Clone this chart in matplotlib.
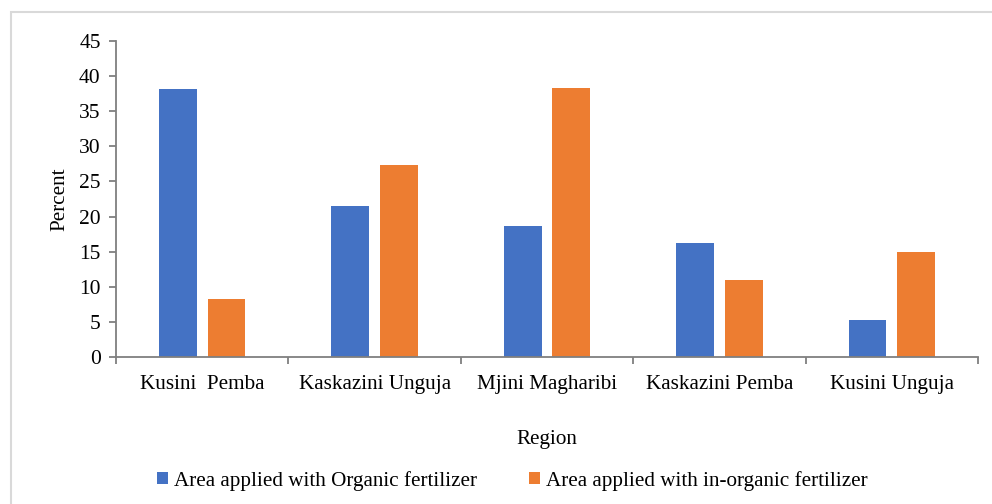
import numpy as np
import matplotlib.pyplot as plt
from matplotlib.patches import Rectangle

regions = ['Kusini  Pemba', 'Kaskazini Unguja', 'Mjini Magharibi',
           'Kaskazini Pemba', 'Kusini Unguja']
organic = [38.2, 21.5, 18.7, 16.2, 5.3]
inorganic = [8.3, 27.3, 38.3, 11.0, 15.0]
series_names = ['Area applied with Organic fertilizer',
                'Area applied with in-organic fertilizer']

blue = '#4472C4'
orange = '#ED7D31'
axis_grey = '#7f7f7f'
fs = 15.2

plt.rcParams['font.family'] = ['Liberation Serif', 'DejaVu Serif']

fig = plt.figure(figsize=(9.92, 5.04), dpi=100)
fig.patches.append(Rectangle((11 / 992, -0.1), 1.1, 1 - 12 / 504 + 0.1,
                             transform=fig.transFigure, fill=False,
                             edgecolor='#d9d9d9', linewidth=1.5))

ax = fig.add_axes([116 / 992, 1 - 357 / 504, (978 - 116) / 992, (357 - 41) / 504])

x = np.arange(len(regions))
w = 0.22
off = 0.141
ax.bar(x - off, organic, w, color=blue, label=series_names[0])
ax.bar(x + off, inorganic, w, color=orange, label=series_names[1])

ax.set_xlim(-0.5, len(regions) - 0.5)
ax.set_ylim(0, 45)
ax.set_yticks(range(0, 46, 5))
ax.set_xticks(x)
ax.set_xticklabels(regions, fontsize=fs)
ax.set_xticks(np.arange(-0.5, len(regions), 1), minor=True)
ax.tick_params(axis='x', which='major', length=0, pad=13)
ax.tick_params(axis='x', which='minor', length=5, width=1.3, color=axis_grey)
ax.tick_params(axis='y', labelsize=15.5, length=5, width=1.3, color=axis_grey, pad=6)

for side in ('top', 'right'):
    ax.spines[side].set_visible(False)
for side in ('left', 'bottom'):
    ax.spines[side].set_color(axis_grey)
    ax.spines[side].set_linewidth(1.3)

ax.set_ylabel('Percent', fontsize=fs, labelpad=7)
ax.set_xlabel('Region', fontsize=fs, labelpad=26)

ax.legend(loc='upper center', bbox_to_anchor=(0.46, -0.30), ncol=2,
          frameon=False, fontsize=fs, handlelength=0.5, handleheight=0.5,
          handletextpad=0.3, columnspacing=2.45)

fig.savefig('out.png', dpi=100)
